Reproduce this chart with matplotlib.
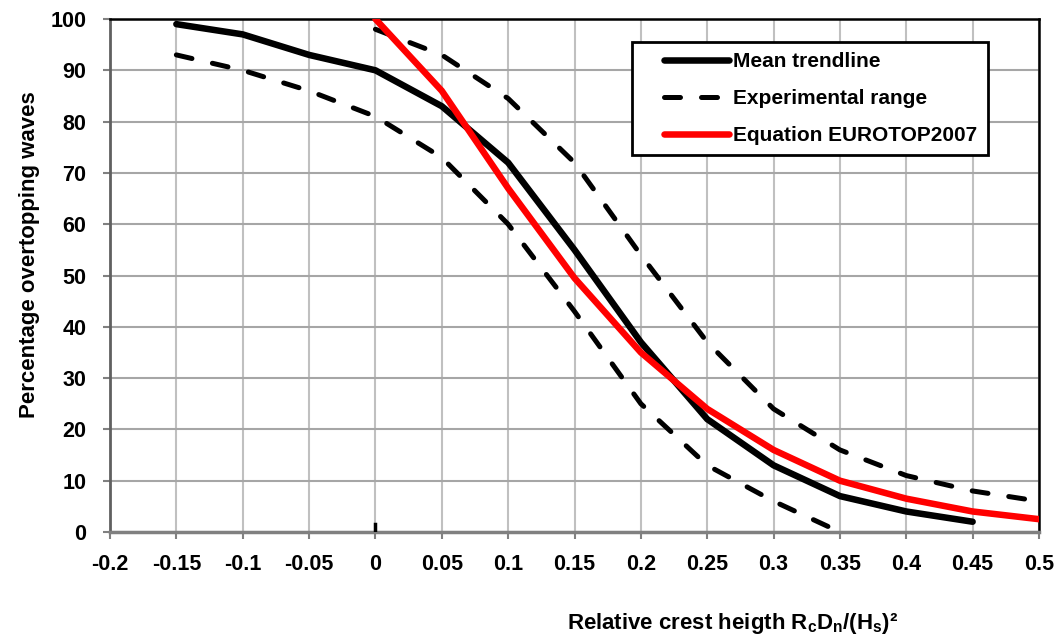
import matplotlib
matplotlib.use("Agg")
import matplotlib.pyplot as plt
from matplotlib.lines import Line2D
from matplotlib.legend_handler import HandlerLine2D

plt.rcParams['font.family'] = ['Liberation Sans', 'DejaVu Sans']
plt.rcParams['font.weight'] = 'bold'
plt.rcParams['mathtext.fontset'] = 'custom'
plt.rcParams['mathtext.rm'] = 'Liberation Sans:bold'
plt.rcParams['mathtext.bf'] = 'Liberation Sans:bold'
plt.rcParams['mathtext.default'] = 'bf'

# mean trendline
mean_x = [-0.15, -0.1, -0.05, 0, 0.05, 0.1, 0.15, 0.2, 0.25, 0.3, 0.35, 0.4, 0.45]
mean_y = [99, 97, 93, 90, 83, 72, 55, 37, 22, 13, 7, 4, 2]

# experimental range (upper / lower)
upper_x = [0, 0.05, 0.1, 0.15, 0.2, 0.25, 0.3, 0.35, 0.4, 0.45, 0.5]
upper_y = [98, 93, 84.5, 72, 54, 37, 24, 16, 11, 8, 6]
lower_x = [-0.15, -0.1, -0.05, 0, 0.05, 0.1, 0.15, 0.2, 0.25, 0.3, 0.35]
lower_y = [93, 90, 86, 81, 73, 60, 43, 25, 13, 6, 0]

# EUROTOP2007 equation
euro_x = [0, 0.05, 0.1, 0.15, 0.2, 0.25, 0.3, 0.35, 0.4, 0.45, 0.5]
euro_y = [100, 86, 67, 49.5, 35, 24, 16, 10, 6.5, 4, 2.5]

# small stray mark at the origin
origin_x = [0, 0]
origin_y = [0, 1.6]

x_ticks = [-0.2, -0.15, -0.1, -0.05, 0, 0.05, 0.1, 0.15, 0.2, 0.25, 0.3, 0.35, 0.4, 0.45, 0.5]
x_labels = ['-0.2', '-0.15', '-0.1', '-0.05', '0', '0.05', '0.1', '0.15', '0.2',
            '0.25', '0.3', '0.35', '0.4', '0.45', '0.5']
y_ticks = list(range(0, 101, 10))

fig = plt.figure(figsize=(10.59, 6.42), dpi=100)
ax = fig.add_axes([110 / 1059, 1 - 532 / 642, (1039 - 110) / 1059, (532 - 19) / 642])

ax.plot(mean_x, mean_y, color='black', lw=4.7, solid_capstyle='round',
        solid_joinstyle='round', label='Mean trendline', zorder=3)
ax.plot(upper_x, upper_y, color='black', lw=3.6, dashes=(3.2, 4.2),
        dash_capstyle='round', label='Experimental range', zorder=3)
ax.plot(lower_x, lower_y, color='black', lw=3.6, dashes=(3.2, 4.2),
        dash_capstyle='round', zorder=3)
ax.plot(euro_x, euro_y, color='#ff0000', lw=4.7, solid_capstyle='round',
        solid_joinstyle='round', label='Equation EUROTOP2007', zorder=4)
ax.plot(origin_x, origin_y, color='black', lw=2.5, zorder=5)

ax.set_xlim(-0.2, 0.5)
ax.set_ylim(0, 100)
ax.set_xticks(x_ticks)
ax.set_xticklabels(x_labels)
ax.set_yticks(y_ticks)
ax.tick_params(labelsize=15.5, labelcolor='black', color='#808080', length=5, width=1.5)
ax.tick_params(axis='x', pad=11)
ax.tick_params(axis='y', pad=12)
for lab in ax.get_xticklabels() + ax.get_yticklabels():
    lab.set_fontweight('bold')

ax.grid(True, axis='x', color='#c0c0c0', lw=1.5)
ax.grid(True, axis='y', color='#a6a6a6', lw=1.5)
ax.set_axisbelow(True)
ax.spines['top'].set_color('black')
ax.spines['right'].set_color('black')
ax.spines['top'].set_linewidth(1.8)
ax.spines['right'].set_linewidth(1.8)
ax.spines['left'].set_color('#606060')
ax.spines['bottom'].set_color('#808080')
ax.spines['left'].set_linewidth(2)
ax.spines['bottom'].set_linewidth(2.5)

fig.text(30 / 1059, 1 - 255 / 642, 'Percentage overtopping waves', rotation=90,
         ha='center', va='center', fontsize=16, fontweight='bold')
fig.text(733 / 1059, 1 - 624 / 642,
         r'Relative crest heigth R$_{c}$D$_{n}$/(H$_{s}$)²',
         ha='center', va='center', fontsize=16, fontweight='bold')

leg = ax.legend(loc='upper left', bbox_to_anchor=((632 - 110) / 929, 1 - (42 - 19) / 513),
                frameon=True, fancybox=False, handlelength=4.15,
                handletextpad=0.2, labelspacing=0.85, borderpad=0.5,
                borderaxespad=0, prop={'weight': 'bold', 'size': 15},
                handler_map={Line2D: HandlerLine2D(xpad=1.05)})
leg.get_frame().set_edgecolor('black')
leg.get_frame().set_linewidth(2)
leg.get_frame().set_alpha(1)

fig.savefig('out.png', dpi=100)
